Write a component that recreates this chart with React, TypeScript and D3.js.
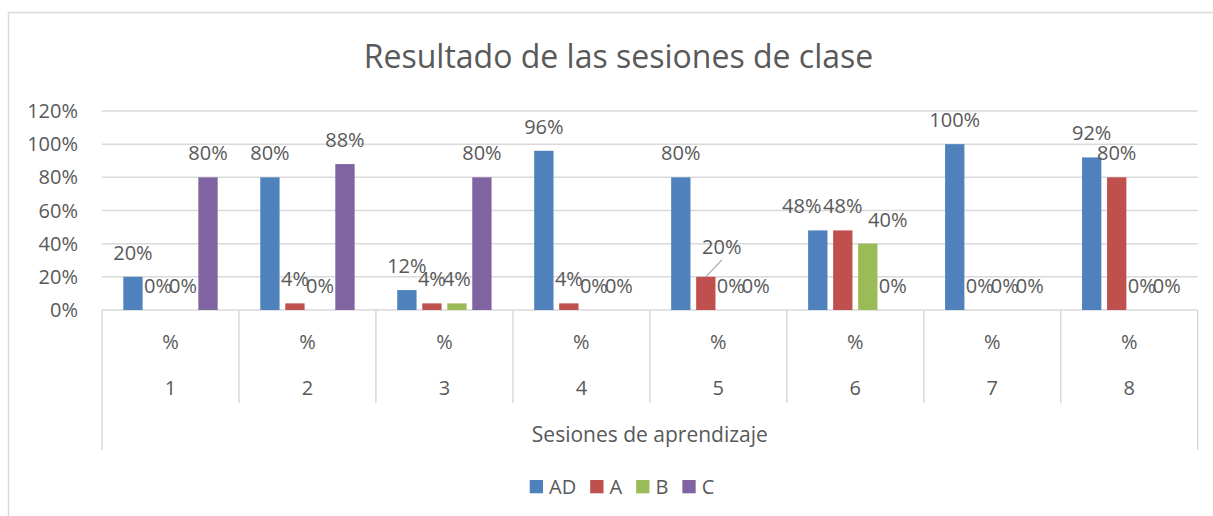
import React, { useEffect, useRef } from "react";
import * as d3 from "d3";

const sessions = ["1", "2", "3", "4", "5", "6", "7", "8"];
const subLabel = "%";
const seriesNames = ["AD", "A", "B", "C"];
const valuesAD = [0.2, 0.8, 0.12, 0.96, 0.8, 0.48, 1.0, 0.92];
const valuesA = [0, 0.04, 0.04, 0.04, 0.2, 0.48, 0, 0.8];
const valuesB = [0, 0, 0.04, 0, 0, 0.4, 0, 0];
const valuesC = [0.8, 0.88, 0.8, 0, 0, 0, 0, 0];
const yTicks = [0, 0.2, 0.4, 0.6, 0.8, 1.0, 1.2];
const colors = ["#4F81BD", "#C0504D", "#9BBB59", "#8064A2"];
const title = "Resultado de las sesiones de clase";
const axisTitle = "Sesiones de aprendizaje";

const W = 1213;
const H = 516;
const FONT = "'Open Sans', 'Noto Sans', sans-serif";
const TEXT = "#595959";
const GRID = "#D9D9D9";
const FS = 20;

export default function App() {
  const ref = useRef<SVGSVGElement | null>(null);

  useEffect(() => {
    const svg = d3.select(ref.current);
    svg.selectAll("*").remove();

    const plotL = 102;
    const plotR = 1197.7;
    const baseY = 310;
    const topY = 111;

    const allSeries = [valuesAD, valuesA, valuesB, valuesC];

    // chart border
    svg.append("rect").attr("x", 8.5).attr("y", 12.5).attr("width", W).attr("height", H)
      .attr("fill", "white").attr("stroke", GRID).attr("stroke-width", 1.5);

    const y = d3.scaleLinear().domain([0, 1.2]).range([baseY, topY]);
    const x0 = d3.scaleBand<string>().domain(sessions).range([plotL, plotR]).paddingInner(0).paddingOuter(0);
    const gw = x0.bandwidth();
    const outer = gw * 0.1556;
    const x1 = d3.scaleBand<string>().domain(seriesNames).range([outer, gw - outer]).paddingInner(0.228).paddingOuter(0);

    // title
    svg.append("text").attr("x", 618.5).attr("y", 68).attr("text-anchor", "middle")
      .attr("font-family", FONT).attr("font-size", 32).attr("fill", TEXT).text(title);

    // gridlines
    svg.append("g").selectAll("line").data(yTicks.filter(t => t > 0)).join("line")
      .attr("x1", plotL).attr("x2", plotR).attr("y1", d => y(d)).attr("y2", d => y(d))
      .attr("stroke", GRID).attr("stroke-width", 1.5);

    // y tick labels
    const fmt = d3.format(".0%");
    svg.append("g").selectAll("text").data(yTicks).join("text")
      .attr("x", 78).attr("y", d => y(d) + 7).attr("text-anchor", "end")
      .attr("font-family", FONT).attr("font-size", FS).attr("fill", TEXT).text(d => fmt(d));

    // category axis lines
    const ax = svg.append("g").attr("stroke", GRID).attr("stroke-width", 1.5);
    ax.append("line").attr("x1", plotL).attr("x2", plotR).attr("y1", baseY).attr("y2", baseY);
    const bounds = sessions.map(s => x0(s) as number).concat([plotR]);
    bounds.forEach((bx, i) => {
      const outerLine = i === 0 || i === bounds.length - 1;
      ax.append("line").attr("x1", bx).attr("x2", bx).attr("y1", baseY).attr("y2", outerLine ? 450 : 403);
    });

    // bars
    allSeries.forEach((vals, si) => {
      svg.append("g").selectAll("rect").data(vals).join("rect")
        .attr("x", (d, i) => (x0(sessions[i]) as number) + (x1(seriesNames[si]) as number))
        .attr("width", x1.bandwidth())
        .attr("y", d => y(d))
        .attr("height", d => baseY - y(d))
        .attr("fill", colors[si]);
    });

    // data labels
    const adjust: Record<string, [number, number]> = {
      "4-1": [16, -6],
      "5-0": [-16, 0],
      "5-2": [20, 0],
    };
    allSeries.forEach((vals, si) => {
      vals.forEach((v, i) => {
        const cx = (x0(sessions[i]) as number) + (x1(seriesNames[si]) as number) + x1.bandwidth() / 2;
        const key = `${i}-${si}`;
        const [dx, dy] = adjust[key] || [0, 0];
        const ty = y(v) - 17 + dy;
        if (key === "4-1") {
          svg.append("line").attr("x1", cx + dx).attr("y1", ty + 6).attr("x2", cx).attr("y2", y(v))
            .attr("stroke", "#A6A6A6").attr("stroke-width", 1.2);
        }
        svg.append("text").attr("x", cx + dx).attr("y", ty).attr("text-anchor", "middle")
          .attr("font-family", FONT).attr("font-size", FS).attr("fill", TEXT).text(fmt(v));
      });
    });

    // category labels
    svg.append("g").selectAll("text").data(sessions).join("text")
      .attr("x", d => (x0(d) as number) + gw / 2).attr("y", 348.5).attr("text-anchor", "middle")
      .attr("font-family", FONT).attr("font-size", FS).attr("fill", TEXT).text(subLabel);
    svg.append("g").selectAll("text").data(sessions).join("text")
      .attr("x", d => (x0(d) as number) + gw / 2).attr("y", 395).attr("text-anchor", "middle")
      .attr("font-family", FONT).attr("font-size", FS).attr("fill", TEXT).text(d => d);
    svg.append("text").attr("x", (plotL + plotR) / 2).attr("y", 442).attr("text-anchor", "middle")
      .attr("font-family", FONT).attr("font-size", 21).attr("fill", TEXT).text(axisTitle);

    // legend
    const lg = svg.append("g");
    const sq = 13.3;
    const gapText = 6;
    const gapItem = 14;
    const items = seriesNames.map((n, i) => {
      const g = lg.append("g");
      g.append("rect").attr("width", sq).attr("height", sq).attr("y", 480).attr("fill", colors[i]);
      const t = g.append("text").attr("x", sq + gapText).attr("y", 494)
        .attr("font-family", FONT).attr("font-size", FS).attr("fill", TEXT).text(n);
      const w = (t.node() as SVGTextElement).getComputedTextLength();
      return { g, w: sq + gapText + w };
    });
    const total = items.reduce((a, b) => a + b.w, 0) + gapItem * (items.length - 1);
    let cx = 622 - total / 2;
    items.forEach(it => {
      it.g.attr("transform", `translate(${cx},0)`);
      cx += it.w + gapItem;
    });
  }, []);

  return (
    <svg ref={ref} width={W} height={H}
      style={{ position: "absolute", left: 0, top: 0, display: "block", background: "white" }} />
  );
}
